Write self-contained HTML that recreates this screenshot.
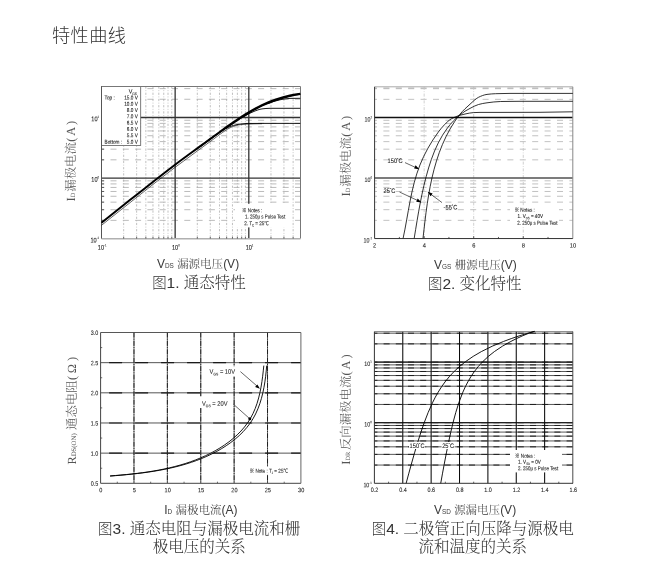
<!DOCTYPE html>
<html lang="zh-CN">
<head>
<meta charset="utf-8">
<title>特性曲线</title>
<style>
html,body{margin:0;padding:0;background:#fff;}
body{width:645px;height:562px;position:relative;overflow:hidden;font-family:'Liberation Sans','Noto Sans CJK SC',sans-serif;color:#333;}
svg{position:absolute;left:0;top:0;text-rendering:geometricPrecision;}
h1{position:absolute;left:52px;top:24.8px;margin:0;font-size:18.2px;letter-spacing:0.4px;line-height:22px;font-weight:300;color:#333;font-family:'Liberation Sans','Noto Sans CJK SC',sans-serif;white-space:nowrap;}
.xl{position:absolute;width:220px;text-align:center;font-size:12px;line-height:14px;white-space:nowrap;color:#3a3a3a;}
.xl small{font-size:6.4px;}
.xl span,.cap span{font-family:'Liberation Serif','Noto Serif CJK SC',serif;font-weight:300;}
.xl span{font-size:11.5px;}
.cap{position:absolute;width:206px;text-align:center;font-size:15.5px;line-height:18.2px;color:#333;margin:0;}
.cap b{font-size:14.4px;font-weight:300;font-family:'Liberation Sans','Noto Sans CJK SC',sans-serif;}
</style>
</head>
<body>
<h1>特性曲线</h1>
<svg width="645" height="562" viewBox="0 0 645 562">
<g stroke="#b0b0b0" stroke-width="0.8" stroke-dasharray="2.2 1.6 0.8 1.6" fill="none"><line x1="123.67" y1="86.5" x2="123.67" y2="238.6"/><line x1="136.64" y1="86.5" x2="136.64" y2="238.6"/><line x1="145.84" y1="86.5" x2="145.84" y2="238.6"/><line x1="152.98" y1="86.5" x2="152.98" y2="238.6"/><line x1="158.81" y1="86.5" x2="158.81" y2="238.6"/><line x1="163.74" y1="86.5" x2="163.74" y2="238.6"/><line x1="168.01" y1="86.5" x2="168.01" y2="238.6"/><line x1="171.78" y1="86.5" x2="171.78" y2="238.6"/><line x1="197.32" y1="86.5" x2="197.32" y2="238.6"/><line x1="210.29" y1="86.5" x2="210.29" y2="238.6"/><line x1="219.49" y1="86.5" x2="219.49" y2="238.6"/><line x1="226.63" y1="86.5" x2="226.63" y2="238.6"/><line x1="232.46" y1="86.5" x2="232.46" y2="238.6"/><line x1="237.39" y1="86.5" x2="237.39" y2="238.6"/><line x1="241.66" y1="86.5" x2="241.66" y2="238.6"/><line x1="245.43" y1="86.5" x2="245.43" y2="238.6"/><line x1="270.97" y1="86.5" x2="270.97" y2="238.6"/><line x1="283.94" y1="86.5" x2="283.94" y2="238.6"/><line x1="293.14" y1="86.5" x2="293.14" y2="238.6"/></g>
<g stroke="#a4a4a4" stroke-width="0.75" stroke-dasharray="6 6.3" stroke-dashoffset="-9" fill="none"><line x1="101.5" y1="220.37" x2="300.5" y2="220.37"/><line x1="101.5" y1="209.71" x2="300.5" y2="209.71"/><line x1="101.5" y1="202.15" x2="300.5" y2="202.15"/><line x1="101.5" y1="196.28" x2="300.5" y2="196.28"/><line x1="101.5" y1="191.48" x2="300.5" y2="191.48"/><line x1="101.5" y1="187.43" x2="300.5" y2="187.43"/><line x1="101.5" y1="183.92" x2="300.5" y2="183.92"/><line x1="101.5" y1="180.82" x2="300.5" y2="180.82"/><line x1="101.5" y1="159.82" x2="300.5" y2="159.82"/><line x1="101.5" y1="149.16" x2="300.5" y2="149.16"/><line x1="101.5" y1="141.6" x2="300.5" y2="141.6"/><line x1="101.5" y1="135.73" x2="300.5" y2="135.73"/><line x1="101.5" y1="130.93" x2="300.5" y2="130.93"/><line x1="101.5" y1="126.88" x2="300.5" y2="126.88"/><line x1="101.5" y1="123.37" x2="300.5" y2="123.37"/><line x1="101.5" y1="120.27" x2="300.5" y2="120.27"/><line x1="101.5" y1="99.27" x2="300.5" y2="99.27"/><line x1="101.5" y1="88.61" x2="300.5" y2="88.61"/></g>
<rect x="235" y="204" width="56" height="23.5" fill="#fff"/>
<g stroke="#333" stroke-width="1.3" fill="none">
<line x1="175.15" y1="86.5" x2="175.15" y2="238.6"/>
<line x1="101.5" y1="178.05" x2="300.5" y2="178.05"/>
<line x1="248.8" y1="86.5" x2="248.8" y2="238.6"/>
<line x1="101.5" y1="117.5" x2="300.5" y2="117.5"/>
</g>
<rect x="235" y="203.8" width="56.4" height="23.6" fill="#fff"/>
<rect x="101.5" y="86.5" width="39.2" height="58.9" fill="#fff" stroke="#5a5a5a" stroke-width="0.8"/>
<path d="M101.5 86.5 H300.5" stroke="#777" stroke-width="1" fill="none"/>
<path d="M300.5 86.5 V238.6" stroke="#777" stroke-width="1" fill="none"/>
<path d="M101.5 238.79999999999998 H300.5" stroke="#b0b0b0" stroke-width="1.4" fill="none"/>
<path d="M101.5 86.5 V238.6" stroke="#555" stroke-width="1" fill="none"/>
<path d="M123.67 238.6 v-1.6M136.64 238.6 v-1.6M145.84 238.6 v-1.6M152.98 238.6 v-1.6M158.81 238.6 v-1.6M163.74 238.6 v-1.6M168.01 238.6 v-1.6M171.78 238.6 v-1.6M197.32 238.6 v-1.6M210.29 238.6 v-1.6M219.49 238.6 v-1.6M226.63 238.6 v-1.6M232.46 238.6 v-1.6M237.39 238.6 v-1.6M241.66 238.6 v-1.6M245.43 238.6 v-1.6M270.97 238.6 v-1.6M283.94 238.6 v-1.6M293.14 238.6 v-1.6M101.5 220.37 h2.6M101.5 209.71 h2.6M101.5 202.15 h2.6M101.5 196.28 h2.6M101.5 191.48 h2.6M101.5 187.43 h2.6M101.5 183.92 h2.6M101.5 180.82 h2.6M101.5 159.82 h2.6M101.5 149.16 h2.6" stroke="#444" stroke-width="0.8" fill="none"/>
<g fill="none" stroke="#000" stroke-linejoin="round">
<path d="M101.5 222.7C113.63 212.98 125.79 203.31 138 193.7C150.42 183.91 162.79 174.04 175.4 164.5C183.52 158.36 191.79 152.42 200 146.4C203.33 143.96 206.67 141.54 210 139.1C213.34 136.64 216.64 134.12 220 131.7C224.62 128.37 229.28 125.08 234 121.9C238.81 118.65 243.62 115.36 248.6 112.4C252.94 109.82 257.34 107.23 261.9 105.1C266.4 103 271.08 101.06 275.8 99.5C280.38 97.99 285.08 96.63 289.8 95.6C293.26 94.85 296.77 94.2 300.3 93.7" stroke-width="2"/>
<path d="M200 146.6C206.59 141.66 213.27 136.84 220 132.1C224.63 128.84 229.29 125.63 234 122.5C238.82 119.3 243.62 116.03 248.6 113.1C252.94 110.55 257.35 108.03 261.9 105.9C266.42 103.79 271.08 101.79 275.8 100.2C280.38 98.65 285.08 97.24 289.8 96.2C293.26 95.44 296.77 94.79 300.3 94.3" stroke-width="1.6"/>
<path d="M101.5 225.3C113.63 215.58 125.79 205.91 138 196.3C150.42 186.51 162.79 176.64 175.4 167.1C183.52 160.96 191.79 155.02 200 149C203.33 146.56 206.67 144.14 210 141.7C213.34 139.24 216.6 136.66 220 134.3C223.26 132.04 226.46 129.41 230 127.8C232.52 126.65 235.26 125.43 238 125C240.6 124.59 243.33 124.34 246 124.2C251.32 123.93 256.65 123.7 262 123.7" stroke-width="0.6"/>
<path d="M226 128.6C229.23 126.92 232.57 125.47 236 124.8C239.24 124.17 242.65 123.54 246 123.5C251.31 123.43 256.67 123.4 262 123.4C274.77 123.4 287.53 123.4 300.3 123.4" stroke-width="0.9"/>
<path d="M244 116.6C247.19 114.52 250.54 112.75 254 111.4C256.57 110.4 259.27 109.23 262 108.9C264.61 108.58 267.33 108.3 270 108.3C280.08 108.3 290.18 108.3 300.3 108.3" stroke-width="0.9"/>
<path d="M268 103.6C271.91 101.95 275.92 100.59 280 99.8C283.27 99.17 286.65 98.46 290 98.4C293.42 98.34 296.85 98.3 300.3 98.3" stroke-width="0.9"/>
</g>
<g font-family="'Liberation Sans', sans-serif" fill="#1c1c1c" stroke="#1c1c1c" stroke-width="0.09">
<text transform="translate(99.1 242.4) rotate(0.05) scale(0.82 1)" font-size="6.8" text-anchor="end">10<tspan dy="-3.3" font-size="3.4">-1</tspan></text>
<text transform="translate(102.2 249.8) rotate(0.05) scale(0.82 1)" font-size="6.8" text-anchor="middle">10<tspan dy="-3.3" font-size="3.4">-1</tspan></text>
<text transform="translate(99.1 181.85) rotate(0.05) scale(0.82 1)" font-size="6.8" text-anchor="end">10<tspan dy="-3.3" font-size="3.4">0</tspan></text>
<text transform="translate(175.85 249.8) rotate(0.05) scale(0.82 1)" font-size="6.8" text-anchor="middle">10<tspan dy="-3.3" font-size="3.4">0</tspan></text>
<text transform="translate(99.1 121.3) rotate(0.05) scale(0.82 1)" font-size="6.8" text-anchor="end">10<tspan dy="-3.3" font-size="3.4">1</tspan></text>
<text transform="translate(249.5 249.8) rotate(0.05) scale(0.82 1)" font-size="6.8" text-anchor="middle">10<tspan dy="-3.3" font-size="3.4">1</tspan></text>
<text transform="translate(128.7 93.5) rotate(0.05) scale(0.9 1)" font-size="6" text-anchor="start">V<tspan dy="1.6" font-size="3.6">GS</tspan><tspan dy="-1.6">​</tspan></text>
<text transform="translate(137.8 99.4) rotate(0.05) scale(0.84 1)" font-size="5.6" text-anchor="end">15.0 V</text>
<text transform="translate(137.8 105.72) rotate(0.05) scale(0.84 1)" font-size="5.6" text-anchor="end">10.0 V</text>
<text transform="translate(137.8 112.04) rotate(0.05) scale(0.84 1)" font-size="5.6" text-anchor="end">8.0 V</text>
<text transform="translate(137.8 118.36) rotate(0.05) scale(0.84 1)" font-size="5.6" text-anchor="end">7.0 V</text>
<text transform="translate(137.8 124.68) rotate(0.05) scale(0.84 1)" font-size="5.6" text-anchor="end">6.5 V</text>
<text transform="translate(137.8 131) rotate(0.05) scale(0.84 1)" font-size="5.6" text-anchor="end">6.0 V</text>
<text transform="translate(137.8 137.32) rotate(0.05) scale(0.84 1)" font-size="5.6" text-anchor="end">5.5 V</text>
<text transform="translate(137.8 143.64) rotate(0.05) scale(0.84 1)" font-size="5.6" text-anchor="end">5.0 V</text>
<text transform="translate(104.6 99.4) rotate(0.05) scale(0.84 1)" font-size="5.6" text-anchor="start">Top :</text>
<text transform="translate(104.6 143.64) rotate(0.05) scale(0.84 1)" font-size="5.6" text-anchor="start">Bottom :</text>
<text transform="translate(242 212.2) rotate(0.05) scale(0.82 1)" font-size="5.6" text-anchor="start">※ Notes :</text>
<text transform="translate(245 218.4) rotate(0.05) scale(0.8 1)" font-size="5.6" text-anchor="start">1. 250μ s Pulse Test</text>
<text transform="translate(244.2 225.2) rotate(0.05) scale(0.82 1)" font-size="5.6" text-anchor="start">2. T<tspan dy="1.3" font-size="3.4">C</tspan><tspan dy="-1.3">​</tspan> = 25℃</text>
</g>
<g stroke="#a8a8a8" stroke-width="0.7" stroke-dasharray="6 6.4" stroke-dashoffset="-8.8" fill="none"><line x1="374.6" y1="220.34" x2="572.8" y2="220.34"/><line x1="374.6" y1="209.68" x2="572.8" y2="209.68"/><line x1="374.6" y1="202.13" x2="572.8" y2="202.13"/><line x1="374.6" y1="196.26" x2="572.8" y2="196.26"/><line x1="374.6" y1="191.47" x2="572.8" y2="191.47"/><line x1="374.6" y1="187.42" x2="572.8" y2="187.42"/><line x1="374.6" y1="183.91" x2="572.8" y2="183.91"/><line x1="374.6" y1="180.82" x2="572.8" y2="180.82"/><line x1="374.6" y1="159.84" x2="572.8" y2="159.84"/><line x1="374.6" y1="149.18" x2="572.8" y2="149.18"/><line x1="374.6" y1="141.63" x2="572.8" y2="141.63"/><line x1="374.6" y1="135.76" x2="572.8" y2="135.76"/><line x1="374.6" y1="130.97" x2="572.8" y2="130.97"/><line x1="374.6" y1="126.92" x2="572.8" y2="126.92"/><line x1="374.6" y1="123.41" x2="572.8" y2="123.41"/><line x1="374.6" y1="120.32" x2="572.8" y2="120.32"/><line x1="374.6" y1="99.34" x2="572.8" y2="99.34"/><line x1="374.6" y1="88.68" x2="572.8" y2="88.68"/><line x1="374.6" y1="88.0" x2="572.8" y2="88.0"/></g>
<g stroke="#c4c4c4" stroke-width="0.8" stroke-dasharray="3 1.5 0.8 1.5" fill="none"><line x1="424.15" y1="86.8" x2="424.15" y2="238.55"/><line x1="473.7" y1="86.8" x2="473.7" y2="238.55"/><line x1="523.25" y1="86.8" x2="523.25" y2="238.55"/></g>
<rect x="510" y="205.5" width="49" height="21.5" fill="#fff"/>
<line x1="374.6" y1="117.55" x2="572.8" y2="117.55" stroke="#111" stroke-width="1.4"/>
<line x1="374.6" y1="178.05" x2="572.8" y2="178.05" stroke="#505050" stroke-width="1.5"/>
<path d="M374.6 86.8 H572.8" stroke="#aaa" stroke-width="1" fill="none"/>
<path d="M572.8 86.8 V238.55" stroke="#888" stroke-width="1" fill="none"/>
<path d="M374.6 238.55 H572.8" stroke="#333" stroke-width="1" fill="none"/>
<path d="M374.6 86.8 V238.55" stroke="#333" stroke-width="1" fill="none"/>
<path d="M399.38 238.55 v-1.6 M448.93 238.55 v-1.6 M498.47 238.55 v-1.6 M548.02 238.55 v-1.6 M424.15 238.55 v-2.4 M473.7 238.55 v-2.4 M523.25 238.55 v-2.4" stroke="#333" stroke-width="0.8" fill="none"/>
<g fill="none" stroke="#000" stroke-width="0.8" stroke-linejoin="round">
<path d="M403.1 238.3C403.75 235.25 404.38 232.2 404.97 229.14C405.56 226.06 406.11 222.97 406.67 219.88C407.23 216.77 407.77 213.66 408.33 210.56C408.89 207.45 409.45 204.34 410.05 201.24C410.66 198.15 411.28 195.06 411.96 191.98C412.64 188.92 413.37 185.86 414.17 182.82C414.96 179.8 415.83 176.79 416.79 173.82C417.74 170.86 418.79 167.92 419.93 165.03C421.07 162.14 422.34 159.28 423.67 156.48C425.01 153.65 426.46 150.87 427.98 148.14C429.52 145.37 431.17 142.65 432.87 139.99C434.61 137.3 436.4 134.61 438.33 132.06C440.25 129.53 442.24 126.98 444.46 124.74C446.59 122.58 448.89 120.23 451.45 118.75C453.96 117.3 456.94 116.16 459.8 115.3C461.82 114.69 463.92 114.21 466 113.8C468.45 113.32 470.92 112.73 473.4 112.6C475.59 112.49 477.8 112.4 480 112.4C486.66 112.4 493.33 112.4 500 112.4C513.33 112.4 526.67 112.36 540 112.3C550.93 112.25 561.87 112.03 572.8 111.8"/>
<path d="M414.2 238.3C414.67 235.37 415.15 232.43 415.63 229.5C416.11 226.56 416.59 223.62 417.08 220.68C417.58 217.73 418.07 214.79 418.6 211.85C419.12 208.9 419.66 205.96 420.22 203.02C420.78 200.07 421.37 197.13 421.99 194.2C422.61 191.27 423.26 188.34 423.94 185.42C424.63 182.49 425.36 179.57 426.13 176.67C426.9 173.76 427.71 170.86 428.58 167.98C429.45 165.1 430.37 162.24 431.36 159.4C432.35 156.58 433.42 153.77 434.56 151.01C435.7 148.27 436.94 145.55 438.27 142.9C439.59 140.27 441.02 137.67 442.55 135.16C444.09 132.66 445.75 130.2 447.52 127.87C449.29 125.53 451.21 123.24 453.24 121.12C455.29 118.96 457.49 116.88 459.8 114.99C461.45 113.64 463.2 112.34 465 111.2C466.6 110.18 468.3 109.27 470 108.4C472.77 106.99 475.56 105.33 478.5 104.5C481.23 103.73 484.15 103.18 487 102.8C491.53 102.2 496.12 101.59 500.7 101.5C507.12 101.37 513.57 101.3 520 101.3C537.6 101.3 555.2 101.3 572.8 101.3"/>
<path d="M423 238.3C423.32 235.43 423.64 232.57 423.97 229.71C424.3 226.82 424.63 223.94 424.98 221.05C425.33 218.16 425.68 215.26 426.06 212.36C426.45 209.46 426.85 206.56 427.27 203.66C427.7 200.76 428.15 197.86 428.64 194.97C429.13 192.09 429.65 189.2 430.21 186.32C430.77 183.46 431.37 180.59 432.01 177.74C432.66 174.9 433.35 172.06 434.1 169.24C434.84 166.44 435.64 163.64 436.5 160.86C437.35 158.1 438.28 155.34 439.26 152.62C440.24 149.91 441.29 147.21 442.41 144.55C443.53 141.89 444.74 139.25 446.01 136.66C447.28 134.07 448.64 131.5 450.07 128.99C451.52 126.47 453.05 123.98 454.66 121.56C456.28 119.12 457.95 116.66 459.8 114.4C461.4 112.44 463.2 110.59 465 108.8C466.6 107.21 468.29 105.68 470 104.2C472.75 101.81 475.38 98.84 478.5 97.3C481.06 96.04 484.09 94.79 487 94.4C489.79 94.03 492.73 93.8 495.6 93.7C500.39 93.53 505.2 93.4 510 93.4C530.93 93.4 551.86 93.4 572.8 93.4"/>
<path d="M405 162.6 L418 168.6 M399.5 192 L420.4 201.8 M442 202.6 L428.6 192.6" stroke-width="0.6"/>
</g>
<path d="M419.3 169.2 l-5.2 -0.6 l1.5 -3.3 z M421.4 202.4 l-5.2 -0.7 l1.5 -3.2 z M427.6 191.8 l5 1.6 l-2 2.8 z" fill="#000"/>
<g font-family="'Liberation Sans', sans-serif" fill="#1c1c1c" stroke="#1c1c1c" stroke-width="0.09">
<text transform="translate(372 242.45) rotate(0.05) scale(0.82 1)" font-size="6.5" text-anchor="end">10<tspan dy="-3.3" font-size="3.4">-1</tspan></text>
<text transform="translate(372 181.95) rotate(0.05) scale(0.82 1)" font-size="6.5" text-anchor="end">10<tspan dy="-3.3" font-size="3.4">0</tspan></text>
<text transform="translate(372 121.45) rotate(0.05) scale(0.82 1)" font-size="6.5" text-anchor="end">10<tspan dy="-3.3" font-size="3.4">1</tspan></text>
<text transform="translate(374.7 247.55) rotate(0.05) scale(0.92 1)" font-size="6.2" text-anchor="middle">2</text>
<text transform="translate(424.25 247.55) rotate(0.05) scale(0.92 1)" font-size="6.2" text-anchor="middle">4</text>
<text transform="translate(473.8 247.55) rotate(0.05) scale(0.92 1)" font-size="6.2" text-anchor="middle">6</text>
<text transform="translate(523.35 247.55) rotate(0.05) scale(0.92 1)" font-size="6.2" text-anchor="middle">8</text>
<text transform="translate(572.9 247.55) rotate(0.05) scale(0.92 1)" font-size="6.2" text-anchor="middle">10</text>
<text transform="translate(387.6 162.9) rotate(0.05) scale(0.86 1)" font-size="6.6" text-anchor="start">150<tspan dy="-2.2" font-size="4">°</tspan><tspan dy="2.2">C</tspan></text>
<text transform="translate(383.6 192.9) rotate(0.05) scale(0.86 1)" font-size="6.6" text-anchor="start">25<tspan dy="-2.2" font-size="4">°</tspan><tspan dy="2.2">C</tspan></text>
<text transform="translate(443.6 209.4) rotate(0.05) scale(0.86 1)" font-size="6.6" text-anchor="start">-55<tspan dy="-2.2" font-size="4">°</tspan><tspan dy="2.2">C</tspan></text>
<text transform="translate(514.4 211.8) rotate(0.05) scale(0.82 1)" font-size="5.6" text-anchor="start">※ Notes :</text>
<text transform="translate(517.6 217.9) rotate(0.05) scale(0.82 1)" font-size="5.6" text-anchor="start">1. V<tspan dy="1.3" font-size="3.4">DS</tspan><tspan dy="-1.3">​</tspan> = 40V</text>
<text transform="translate(517.2 224.7) rotate(0.05) scale(0.8 1)" font-size="5.6" text-anchor="start">2. 250μ s Pulse Test</text>
</g>
<g stroke="#4c4c4c" stroke-width="0.95" fill="none"><line x1="100.6" y1="453.14" x2="300.9" y2="453.14"/><line x1="100.6" y1="422.98" x2="300.9" y2="422.98"/><line x1="100.6" y1="392.82" x2="300.9" y2="392.82"/><line x1="100.6" y1="362.66" x2="300.9" y2="362.66"/></g>
<g stroke="#1a1a1a" stroke-width="1.15" stroke-dasharray="13 13" stroke-dashoffset="-8.5" fill="none"><line x1="100.6" y1="453.14" x2="300.9" y2="453.14"/><line x1="100.6" y1="422.98" x2="300.9" y2="422.98"/><line x1="100.6" y1="392.82" x2="300.9" y2="392.82"/><line x1="100.6" y1="362.66" x2="300.9" y2="362.66"/></g>
<g stroke="#555" stroke-width="0.8" fill="none"><line x1="133.98" y1="332.5" x2="133.98" y2="483.3"/><line x1="167.37" y1="332.5" x2="167.37" y2="483.3"/><line x1="200.75" y1="332.5" x2="200.75" y2="483.3"/><line x1="234.13" y1="332.5" x2="234.13" y2="483.3"/><line x1="267.52" y1="332.5" x2="267.52" y2="483.3"/></g>
<g stroke="#1a1a1a" stroke-width="0.95" stroke-dasharray="5 1.2 1 1.2" fill="none"><line x1="133.98" y1="332.5" x2="133.98" y2="483.3"/><line x1="167.37" y1="332.5" x2="167.37" y2="483.3"/><line x1="200.75" y1="332.5" x2="200.75" y2="483.3"/><line x1="234.13" y1="332.5" x2="234.13" y2="483.3"/><line x1="267.52" y1="332.5" x2="267.52" y2="483.3"/></g>
<rect x="207" y="366.2" width="30" height="10.4" fill="#fff"/>
<rect x="199.4" y="396.4" width="30.6" height="11.6" fill="#fff"/>
<rect x="247.4" y="466.6" width="41" height="8.2" fill="#fff"/>
<path d="M100.6 332.5 H300.9" stroke="#444" stroke-width="0.9" fill="none"/>
<path d="M300.9 332.5 V483.3" stroke="#555" stroke-width="0.9" fill="none"/>
<path d="M100.6 483.3 H300.9" stroke="#444" stroke-width="1" fill="none"/>
<path d="M100.6 332.5 V483.3" stroke="#444" stroke-width="1" fill="none"/>
<path d="M117.29 483.3 v-1.6 M150.67 483.3 v-1.6 M184.06 483.3 v-1.6 M217.44 483.3 v-1.6 M250.82 483.3 v-1.6 M284.21 483.3 v-1.6 M100.6 468.22 h1.6 M100.6 438.06 h1.6 M100.6 407.9 h1.6 M100.6 377.74 h1.6 M100.6 347.58 h1.6" stroke="#444" stroke-width="0.8" fill="none"/>
<g fill="none" stroke="#000" stroke-width="0.9" stroke-linejoin="round">
<path d="M110.1 475.9C111.89 475.77 113.67 475.63 115.46 475.49C117.26 475.35 119.05 475.2 120.84 475.04C122.65 474.89 124.45 474.72 126.25 474.55C128.05 474.37 129.86 474.19 131.66 473.99C133.47 473.8 135.27 473.59 137.08 473.38C138.89 473.16 140.69 472.93 142.5 472.69C144.31 472.44 146.11 472.19 147.91 471.92C149.72 471.65 151.52 471.36 153.32 471.06C155.12 470.76 156.91 470.44 158.71 470.1C160.5 469.77 162.29 469.41 164.07 469.04C165.85 468.67 167.63 468.27 169.41 467.86C171.18 467.45 172.95 467.02 174.71 466.56C176.47 466.11 178.22 465.63 179.97 465.14C181.71 464.64 183.45 464.11 185.18 463.57C186.91 463.02 188.63 462.45 190.34 461.85C192.05 461.26 193.76 460.63 195.45 459.98C197.14 459.33 198.82 458.65 200.49 457.95C202.16 457.24 203.82 456.51 205.46 455.74C207.11 454.98 208.74 454.18 210.36 453.36C211.98 452.53 213.58 451.67 215.17 450.78C216.76 449.89 218.33 448.97 219.88 448.01C221.43 447.06 222.97 446.07 224.47 445.04C225.97 444.02 227.45 442.96 228.9 441.87C230.34 440.78 231.76 439.65 233.14 438.48C234.52 437.32 235.87 436.11 237.17 434.87C238.47 433.64 239.74 432.36 240.96 431.05C242.17 429.74 243.35 428.38 244.47 427C245.58 425.61 246.66 424.18 247.67 422.71C248.68 421.24 249.66 419.73 250.55 418.19C251.44 416.63 252.29 415.04 253.06 413.42C253.84 411.79 254.57 410.12 255.23 408.44C255.9 406.74 256.51 405.01 257.08 403.27C257.64 401.52 258.16 399.75 258.64 397.97C259.11 396.19 259.55 394.38 259.94 392.58C260.33 390.77 260.7 388.95 261.02 387.13C261.35 385.31 261.65 383.49 261.92 381.66C262.19 379.85 262.43 378.04 262.66 376.22C262.88 374.44 263.08 372.65 263.27 370.86C263.46 369.11 263.64 367.35 263.8 365.6"/>
<path d="M110.1 476.1C111.91 475.96 113.72 475.81 115.53 475.66C117.34 475.51 119.16 475.36 120.97 475.19C122.8 475.03 124.62 474.86 126.44 474.68C128.27 474.51 130.1 474.32 131.93 474.13C133.76 473.93 135.59 473.73 137.42 473.51C139.25 473.3 141.09 473.07 142.92 472.84C144.75 472.6 146.58 472.35 148.41 472.08C150.24 471.82 152.06 471.54 153.89 471.24C155.71 470.95 157.54 470.64 159.35 470.31C161.17 469.99 162.99 469.64 164.8 469.28C166.61 468.92 168.42 468.54 170.22 468.14C172.02 467.74 173.81 467.32 175.6 466.87C177.39 466.43 179.17 465.97 180.95 465.48C182.72 465 184.49 464.49 186.25 463.95C188.01 463.42 189.76 462.86 191.5 462.28C193.24 461.69 194.97 461.08 196.69 460.44C198.41 459.81 200.12 459.14 201.82 458.45C203.52 457.75 205.21 457.03 206.88 456.28C208.56 455.52 210.22 454.74 211.87 453.92C213.52 453.11 215.16 452.26 216.78 451.38C218.4 450.5 220 449.58 221.59 448.63C223.17 447.69 224.73 446.7 226.27 445.68C227.8 444.67 229.31 443.61 230.79 442.52C232.26 441.44 233.71 440.31 235.13 439.14C236.53 437.98 237.91 436.78 239.25 435.54C240.58 434.31 241.88 433.03 243.12 431.71C244.37 430.4 245.58 429.04 246.73 427.64C247.88 426.25 248.99 424.81 250.03 423.33C251.07 421.85 252.07 420.33 252.99 418.78C253.92 417.21 254.8 415.6 255.6 413.97C256.41 412.32 257.17 410.63 257.86 408.93C258.56 407.22 259.21 405.47 259.8 403.72C260.39 401.95 260.94 400.16 261.44 398.36C261.94 396.56 262.41 394.73 262.82 392.91C263.24 391.08 263.62 389.24 263.96 387.39C264.3 385.56 264.62 383.71 264.89 381.87C265.17 380.04 265.42 378.2 265.64 376.36C265.86 374.55 266.06 372.74 266.23 370.93C266.41 369.15 266.56 367.38 266.7 365.6"/>
<path d="M240.4 371.6 L258.6 387.4 M233.4 404.2 L249.6 418.6" stroke-width="0.6"/>
</g>
<path d="M259.9 388.7 l-4.8 -1.7 l2.3 -2.6 z" fill="#000"/>
<circle cx="249.8" cy="418.8" r="1.5" fill="#000"/>
<g font-family="'Liberation Sans', sans-serif" fill="#1c1c1c" stroke="#1c1c1c" stroke-width="0.09">
<text transform="translate(98.2 485.8) rotate(0.05) scale(0.86 1)" font-size="6.3" text-anchor="end">0.5</text>
<text transform="translate(98.2 455.64) rotate(0.05) scale(0.86 1)" font-size="6.3" text-anchor="end">1.0</text>
<text transform="translate(98.2 425.48) rotate(0.05) scale(0.86 1)" font-size="6.3" text-anchor="end">1.5</text>
<text transform="translate(98.2 395.32) rotate(0.05) scale(0.86 1)" font-size="6.3" text-anchor="end">2.0</text>
<text transform="translate(98.2 365.16) rotate(0.05) scale(0.86 1)" font-size="6.3" text-anchor="end">2.5</text>
<text transform="translate(98.2 335) rotate(0.05) scale(0.86 1)" font-size="6.3" text-anchor="end">3.0</text>
<text transform="translate(100.9 492.2) rotate(0.05) scale(0.88 1)" font-size="6.3" text-anchor="middle">0</text>
<text transform="translate(134.28 492.2) rotate(0.05) scale(0.88 1)" font-size="6.3" text-anchor="middle">5</text>
<text transform="translate(167.67 492.2) rotate(0.05) scale(0.88 1)" font-size="6.3" text-anchor="middle">10</text>
<text transform="translate(201.05 492.2) rotate(0.05) scale(0.88 1)" font-size="6.3" text-anchor="middle">15</text>
<text transform="translate(234.43 492.2) rotate(0.05) scale(0.88 1)" font-size="6.3" text-anchor="middle">20</text>
<text transform="translate(267.82 492.2) rotate(0.05) scale(0.88 1)" font-size="6.3" text-anchor="middle">25</text>
<text transform="translate(301.2 492.2) rotate(0.05) scale(0.88 1)" font-size="6.3" text-anchor="middle">30</text>
<text transform="translate(209.6 373.8) rotate(0.05) scale(0.87 1)" font-size="6.6" text-anchor="start">V<tspan dy="1.6" font-size="3.9">GS</tspan><tspan dy="-1.6">​</tspan> = 10V</text>
<text transform="translate(202 405.7) rotate(0.05) scale(0.87 1)" font-size="6.6" text-anchor="start">V<tspan dy="1.6" font-size="3.9">GS</tspan><tspan dy="-1.6">​</tspan> = 20V</text>
<text transform="translate(249.6 472.7) rotate(0.05) scale(0.82 1)" font-size="5.6" text-anchor="start">※ Note : T<tspan dy="1.3" font-size="3.4">J</tspan><tspan dy="-1.3">​</tspan> = 25℃</text>
</g>
<g stroke="#3a3a3a" stroke-width="0.85" fill="none"><line x1="374.4" y1="465.06" x2="573" y2="465.06"/><line x1="374.4" y1="454.39" x2="573" y2="454.39"/><line x1="374.4" y1="446.82" x2="573" y2="446.82"/><line x1="374.4" y1="440.94" x2="573" y2="440.94"/><line x1="374.4" y1="436.14" x2="573" y2="436.14"/><line x1="374.4" y1="432.09" x2="573" y2="432.09"/><line x1="374.4" y1="428.57" x2="573" y2="428.57"/><line x1="374.4" y1="425.47" x2="573" y2="425.47"/><line x1="374.4" y1="422.7" x2="573" y2="422.7"/><line x1="374.4" y1="404.46" x2="573" y2="404.46"/><line x1="374.4" y1="393.79" x2="573" y2="393.79"/><line x1="374.4" y1="386.22" x2="573" y2="386.22"/><line x1="374.4" y1="380.34" x2="573" y2="380.34"/><line x1="374.4" y1="375.54" x2="573" y2="375.54"/><line x1="374.4" y1="371.49" x2="573" y2="371.49"/><line x1="374.4" y1="367.97" x2="573" y2="367.97"/><line x1="374.4" y1="364.87" x2="573" y2="364.87"/><line x1="374.4" y1="362.1" x2="573" y2="362.1"/><line x1="374.4" y1="343.86" x2="573" y2="343.86"/><line x1="374.4" y1="333.19" x2="573" y2="333.19"/></g>
<g stroke="#1c1c1c" stroke-width="0.95" stroke-dasharray="6 6.2" stroke-dashoffset="-9.2" fill="none"><line x1="374.4" y1="465.06" x2="573" y2="465.06"/><line x1="374.4" y1="454.39" x2="573" y2="454.39"/><line x1="374.4" y1="446.82" x2="573" y2="446.82"/><line x1="374.4" y1="440.94" x2="573" y2="440.94"/><line x1="374.4" y1="436.14" x2="573" y2="436.14"/><line x1="374.4" y1="432.09" x2="573" y2="432.09"/><line x1="374.4" y1="428.57" x2="573" y2="428.57"/><line x1="374.4" y1="425.47" x2="573" y2="425.47"/><line x1="374.4" y1="422.7" x2="573" y2="422.7"/><line x1="374.4" y1="404.46" x2="573" y2="404.46"/><line x1="374.4" y1="393.79" x2="573" y2="393.79"/><line x1="374.4" y1="386.22" x2="573" y2="386.22"/><line x1="374.4" y1="380.34" x2="573" y2="380.34"/><line x1="374.4" y1="375.54" x2="573" y2="375.54"/><line x1="374.4" y1="371.49" x2="573" y2="371.49"/><line x1="374.4" y1="367.97" x2="573" y2="367.97"/><line x1="374.4" y1="364.87" x2="573" y2="364.87"/><line x1="374.4" y1="362.1" x2="573" y2="362.1"/><line x1="374.4" y1="343.86" x2="573" y2="343.86"/><line x1="374.4" y1="333.19" x2="573" y2="333.19"/></g>
<line x1="374.4" y1="362.1" x2="573" y2="362.1" stroke="#222" stroke-width="1.3"/>
<line x1="374.4" y1="422.7" x2="573" y2="422.7" stroke="#222" stroke-width="1.3"/>
<g stroke="#0a0a0a" stroke-width="1.05" fill="none"><line x1="402.77" y1="331.6" x2="402.77" y2="483.3"/><line x1="431.14" y1="331.6" x2="431.14" y2="483.3"/><line x1="459.51" y1="331.6" x2="459.51" y2="483.3"/><line x1="487.89" y1="331.6" x2="487.89" y2="483.3"/><line x1="516.26" y1="331.6" x2="516.26" y2="483.3"/><line x1="544.63" y1="331.6" x2="544.63" y2="483.3"/></g>
<rect x="510" y="450" width="52" height="22.4" fill="#fff"/>
<path d="M374.4 331.6 H573" stroke="#777" stroke-width="0.9" fill="none"/>
<path d="M572.8 331.6 V483.3" stroke="#4a4a4a" stroke-width="1" fill="none"/>
<path d="M374.4 483.3 H573" stroke="#333" stroke-width="1" fill="none"/>
<path d="M374.4 331.6 V483.3" stroke="#333" stroke-width="1" fill="none"/>
<path d="M388.59 483.3 v-1.6 M416.96 483.3 v-1.6 M445.33 483.3 v-1.6 M473.7 483.3 v-1.6 M502.07 483.3 v-1.6 M530.44 483.3 v-1.6 M558.81 483.3 v-1.6" stroke="#333" stroke-width="0.8" fill="none"/>
<g fill="none" stroke="#000" stroke-width="0.9" stroke-linejoin="round">
<path d="M406.13 483.3C407.03 479.92 407.94 476.54 408.86 473.17C409.79 469.79 410.71 466.41 411.66 463.04C412.6 459.66 413.56 456.28 414.54 452.9C415.52 449.52 416.52 446.14 417.56 442.77C418.59 439.39 419.65 436 420.77 432.64C421.89 429.25 423.04 425.86 424.27 422.51C425.51 419.11 426.8 415.72 428.19 412.38C429.61 408.96 431.11 405.56 432.73 402.25C434.42 398.81 436.22 395.39 438.19 392.11C440.27 388.64 442.54 385.2 444.99 381.98C447.67 378.44 450.63 374.99 453.75 371.85C457.36 368.23 461.32 364.77 465.42 361.72C470.43 357.99 475.85 354.55 481.35 351.59C488.45 347.76 495.98 344.35 503.53 341.46C513.74 337.54 524.18 334.02 534.9 331.32"/>
<path d="M440.72 483.3C441.33 479.92 441.94 476.54 442.56 473.17C443.18 469.79 443.81 466.41 444.45 463.04C445.09 459.66 445.74 456.28 446.4 452.9C447.07 449.52 447.75 446.15 448.46 442.77C449.17 439.39 449.89 436.01 450.66 432.64C451.43 429.26 452.22 425.87 453.07 422.51C453.93 419.12 454.83 415.73 455.81 412.38C456.79 408.98 457.85 405.59 459 402.25C460.19 398.83 461.47 395.43 462.89 392.11C464.36 388.68 465.98 385.26 467.77 381.98C469.68 378.5 471.82 375.06 474.14 371.85C476.7 368.3 479.6 364.84 482.67 361.72C486.26 358.07 490.26 354.61 494.39 351.59C499.53 347.83 505.14 344.39 510.8 341.46C518.26 337.59 526.01 334.09 534.1 331.32"/>
</g>
<rect x="409" y="442" width="16.2" height="7" fill="#fff"/>
<rect x="441.6" y="442" width="13" height="7" fill="#fff"/>
<g font-family="'Liberation Sans', sans-serif" fill="#1c1c1c" stroke="#1c1c1c" stroke-width="0.09">
<text transform="translate(371.8 487.2) rotate(0.05) scale(0.82 1)" font-size="6.5" text-anchor="end">10<tspan dy="-3.3" font-size="3.4">-1</tspan></text>
<text transform="translate(371.8 426.6) rotate(0.05) scale(0.82 1)" font-size="6.5" text-anchor="end">10<tspan dy="-3.3" font-size="3.4">0</tspan></text>
<text transform="translate(371.8 366) rotate(0.05) scale(0.82 1)" font-size="6.5" text-anchor="end">10<tspan dy="-3.3" font-size="3.4">1</tspan></text>
<text transform="translate(374.6 492.1) rotate(0.05) scale(0.86 1)" font-size="6.3" text-anchor="middle">0.2</text>
<text transform="translate(402.97 492.1) rotate(0.05) scale(0.86 1)" font-size="6.3" text-anchor="middle">0.4</text>
<text transform="translate(431.34 492.1) rotate(0.05) scale(0.86 1)" font-size="6.3" text-anchor="middle">0.6</text>
<text transform="translate(459.71 492.1) rotate(0.05) scale(0.86 1)" font-size="6.3" text-anchor="middle">0.8</text>
<text transform="translate(488.09 492.1) rotate(0.05) scale(0.86 1)" font-size="6.3" text-anchor="middle">1.0</text>
<text transform="translate(516.46 492.1) rotate(0.05) scale(0.86 1)" font-size="6.3" text-anchor="middle">1.2</text>
<text transform="translate(544.83 492.1) rotate(0.05) scale(0.86 1)" font-size="6.3" text-anchor="middle">1.4</text>
<text transform="translate(573.2 492.1) rotate(0.05) scale(0.86 1)" font-size="6.3" text-anchor="middle">1.6</text>
<text transform="translate(409.6 447.9) rotate(0.05) scale(0.86 1)" font-size="6.6" text-anchor="start">150<tspan dy="-2.2" font-size="4">°</tspan><tspan dy="2.2">C</tspan></text>
<text transform="translate(442.2 447.9) rotate(0.05) scale(0.86 1)" font-size="6.6" text-anchor="start">25<tspan dy="-2.2" font-size="4">°</tspan><tspan dy="2.2">C</tspan></text>
<text transform="translate(515 457.8) rotate(0.05) scale(0.82 1)" font-size="5.6" text-anchor="start">※ Notes :</text>
<text transform="translate(518 463.7) rotate(0.05) scale(0.82 1)" font-size="5.6" text-anchor="start">1. V<tspan dy="1.3" font-size="3.4">SD</tspan><tspan dy="-1.3">​</tspan> = 0V</text>
<text transform="translate(518 470.2) rotate(0.05) scale(0.8 1)" font-size="5.6" text-anchor="start">2. 250μ s Pulse Test</text>
</g>
<text transform="translate(75.2 160.2) rotate(-90)" text-anchor="middle" font-family="'Liberation Serif','Noto Serif CJK SC', serif" font-size="12.4" fill="#555" font-weight="300">I<tspan font-size="6.4">D</tspan><tspan dx="1">漏极电流</tspan><tspan letter-spacing="1.9" dx="0.3">(A)</tspan></text>
<text transform="translate(349.6 155.2) rotate(-90)" text-anchor="middle" font-family="'Liberation Serif','Noto Serif CJK SC', serif" font-size="12.4" fill="#555" font-weight="300">I<tspan font-size="6.4">D</tspan><tspan dx="1">漏极电流</tspan><tspan letter-spacing="1.9" dx="0.3">(A)</tspan></text>
<text transform="translate(75.6 409.4) rotate(-90)" text-anchor="middle" font-family="'Liberation Serif','Noto Serif CJK SC', serif" font-size="12.4" fill="#555" font-weight="300">R<tspan font-size="6.8">DS(ON)</tspan><tspan dx="3.4">通态电阻</tspan><tspan letter-spacing="2.8" dx="0.3">(Ω)</tspan></text>
<text transform="translate(349.6 408.6) rotate(-90)" text-anchor="middle" font-family="'Liberation Serif','Noto Serif CJK SC', serif" font-size="12.4" fill="#555" font-weight="300">I<tspan font-size="6.4">DR</tspan><tspan dx="1.6">反向漏极电流</tspan><tspan letter-spacing="1.9" dx="0.3">(A)</tspan></text>
</svg>
<div class="xl" style="left:88px;top:256.6px">V<small>DS</small> <span>漏源电压</span>(V)</div>
<p class="cap" style="left:96px;top:273.6px"><b>图</b>1. <span>通态特性</span></p>
<div class="xl" style="left:365.4px;top:258.1px">V<small>GS</small> <span>栅源电压</span>(V)</div>
<p class="cap" style="left:371.8px;top:275.4px"><b>图</b>2. <span>变化特性</span></p>
<div class="xl" style="left:90.8px;top:503px">I<small>D</small> <span>漏极电流</span>(A)</div>
<p class="cap" style="left:96.2px;top:519.6px"><b>图</b>3. <span>通态电阻与漏极电流和栅极电压的关系</span></p>
<div class="xl" style="left:365px;top:503px">V<small>SD</small> <span>源漏电压</span>(V)</div>
<p class="cap" style="left:369.8px;top:519.6px"><b>图</b>4. <span>二极管正向压降与源极电流和温度的关系</span></p>
</body>
</html>
